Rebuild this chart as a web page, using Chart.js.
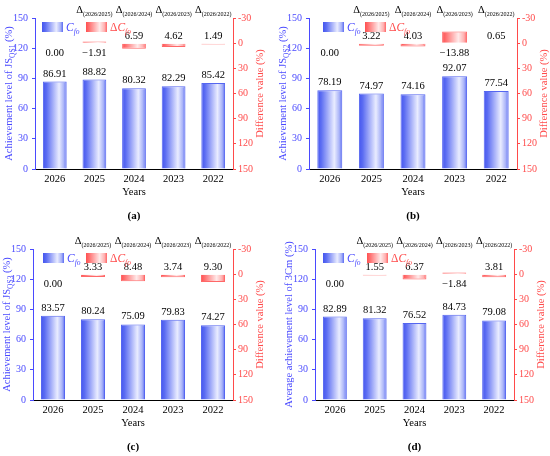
<!DOCTYPE html>
<html lang="en">
<head>
<meta charset="UTF-8">
<title>Achievement levels and difference values</title>
<script src="https://cdn.jsdelivr.net/npm/chart.js"></script>
<style>
  html, body { margin: 0; padding: 0; background: #fff; }
  body { width: 550px; height: 456px; position: relative; overflow: hidden; }
  .panel { position: absolute; width: 275px; height: 228px; }
</style>
</head>
<body>
<div class="panel" style="left:0;top:0"><canvas id="chartA"></canvas></div>
<div class="panel" style="left:275px;top:0"><canvas id="chartB"></canvas></div>
<div class="panel" style="left:0;top:228px"><canvas id="chartC"></canvas></div>
<div class="panel" style="left:275px;top:228px"><canvas id="chartD"></canvas></div>

<script>
// data
const years = ['2026', '2025', '2024', '2023', '2022'];
const deltaLabels = ['', '(2026/2025)', '(2026/2024)', '(2026/2023)', '(2026/2022)'];

const qs1Level = [86.91, 88.82, 80.32, 82.29, 85.42];
const qs1Diff  = [0.00, -1.91, 6.59, 4.62, 1.49];
const qs2Level = [78.19, 74.97, 74.16, 92.07, 77.54];
const qs2Diff  = [0.00, 3.22, 4.03, -13.88, 0.65];
const qs3Level = [83.57, 80.24, 75.09, 79.83, 74.27];
const qs3Diff  = [0.00, 3.33, 8.48, 3.74, 9.30];
const cmLevel  = [82.89, 81.32, 76.52, 84.73, 79.08];
const cmDiff   = [0.00, 1.55, 6.37, -1.84, 3.81];

const leftTicks  = { min: 0, max: 150, step: 30 };
const rightTicks = { min: -30, max: 150, step: 30 };

// look
const FONT = "'Liberation Serif', 'Times New Roman', serif";
const BLUE = '#4a4aff';
const RED  = '#ff4a4a';
const W = 275, H = 228;
const BAR_PCT = 0.6;
const blueStops = [[0, '#4556ef'], [0.15, '#5b6cf2'], [0.68, '#e9ecff'], [0.88, '#a9b3f8'], [1, '#5a6bf2']];
const redStops  = [[0, '#ff5050'], [0.15, '#ff7070'], [0.65, '#ffeaea'], [0.88, '#ffb0b0'], [1, '#ff6464']];

function makeGrad(ctx, x0, x1, stops) {
  const g = ctx.createLinearGradient(x0, 0, x1, 0);
  stops.forEach(s => g.addColorStop(s[0], s[1]));
  return g;
}

function barGrad(c, stops) {
  const chart = c.chart, xs = chart.scales.x;
  if (!chart.chartArea || !xs || c.dataIndex === undefined) return stops[0][1];
  const cx = xs.getPixelForValue(c.dataIndex);
  const half = xs.width / years.length * BAR_PCT / 2;
  return makeGrad(chart.ctx, cx - half, cx + half, stops);
}

// draw a run of text pieces, some of them subscripts
function drawRich(ctx, parts, x, y, align) {
  let total = 0;
  parts.forEach(p => {
    ctx.font = (p.bold ? 'bold ' : '') + (p.italic ? 'italic ' : '') + p.size + 'px ' + FONT;
    p.w = ctx.measureText(p.t).width;
    total += p.w;
  });
  let cx = align === 'center' ? x - total / 2 : (align === 'right' ? x - total : x);
  ctx.textAlign = 'left';
  ctx.textBaseline = 'alphabetic';
  parts.forEach(p => {
    ctx.font = (p.bold ? 'bold ' : '') + (p.italic ? 'italic ' : '') + p.size + 'px ' + FONT;
    ctx.fillStyle = p.color || '#000';
    ctx.fillText(p.t, cx, y + (p.dy || 0));
    cx += p.w;
  });
  return total;
}

function fmt(v) {
  return (v < 0 ? '\u2212' : '') + Math.abs(v).toFixed(2);
}

function makePanel(id, level, diff, yTitle, tag, area, legendX) {
  const decor = {
    id: 'decor' + id,
    afterDatasetsDraw(chart) {
      const ctx = chart.ctx;
      const ca = chart.chartArea;
      const y2 = chart.scales.y2;
      const zero = y2.getPixelForValue(0);
      ctx.save();

      // values on the achievement bars
      ctx.font = '10.5px ' + FONT;
      ctx.fillStyle = '#000';
      ctx.textAlign = 'center';
      ctx.textBaseline = 'alphabetic';
      chart.getDatasetMeta(0).data.forEach((bar, i) => {
        ctx.fillText(level[i].toFixed(2), bar.x, bar.y - 5);
      });
      // values of the differences, kept on the zero side of the bar
      chart.getDatasetMeta(1).data.forEach((bar, i) => {
        const v = diff[i];
        ctx.fillText(fmt(v), bar.x, v > 0 ? zero - 4 : zero + 13);
      });

      // delta labels above the plot
      const xs = chart.scales.x;
      deltaLabels.forEach((t, i) => {
        if (!t) return;
        drawRich(ctx, [
          { t: '\u0394', size: 10.5 },
          { t: t, size: 6, dy: 2.5 }
        ], xs.getPixelForValue(i), ca.top - 5, 'center');
      });

      // legend
      const ly = ca.top + 4;
      const bx = ca.left + legendX[0], rx = ca.left + legendX[1];
      ctx.fillStyle = makeGrad(ctx, bx, bx + 21, blueStops);
      ctx.fillRect(bx, ly, 21, 10);
      drawRich(ctx, [
        { t: 'C', size: 11.5, italic: true, color: BLUE },
        { t: 'fo', size: 7.5, italic: true, color: BLUE, dy: 3 }
      ], bx + 24, ly + 8.5, 'left');
      ctx.fillStyle = makeGrad(ctx, rx, rx + 21, redStops);
      ctx.fillRect(rx, ly, 21, 10);
      drawRich(ctx, [
        { t: '\u0394', size: 11.5, color: RED },
        { t: 'C', size: 11.5, italic: true, color: RED },
        { t: 'fo', size: 7.5, italic: true, color: RED, dy: 3 }
      ], rx + 24, ly + 8.5, 'left');

      // axis titles
      const midY = (ca.top + ca.bottom) / 2;
      ctx.save();
      ctx.translate(ca.left - 27, midY);
      ctx.rotate(-Math.PI / 2);
      drawRich(ctx, yTitle.map(p => Object.assign({ size: p.sub ? 7.5 : 10.5, color: BLUE, dy: p.sub ? 2.5 : 0 }, p)), 0, 4, 'center');
      ctx.restore();
      ctx.save();
      ctx.translate(ca.right + 26, midY);
      ctx.rotate(-Math.PI / 2);
      drawRich(ctx, [{ t: 'Difference value (%)', size: 10.5, color: RED }], 0, 4, 'center');
      ctx.restore();

      const midX = (ca.left + ca.right) / 2;
      drawRich(ctx, [{ t: 'Years', size: 10.5 }], midX, ca.bottom + 26, 'center');
      drawRich(ctx, [{ t: tag, size: 11, bold: true }], midX, ca.bottom + 50, 'center');
      ctx.restore();
    }
  };

  return new Chart(document.getElementById(id), {
    type: 'bar',
    data: {
      labels: years,
      datasets: [
        {
          label: 'Cfo',
          data: level,
          yAxisID: 'y',
          grouped: false,
          barPercentage: BAR_PCT,
          categoryPercentage: 1,
          borderWidth: 1,
          borderColor: '#5566f0',
          backgroundColor: c => barGrad(c, blueStops),
          order: 2
        },
        {
          label: '\u0394Cfo',
          data: diff,
          yAxisID: 'y2',
          grouped: false,
          barPercentage: BAR_PCT,
          categoryPercentage: 1,
          borderWidth: 1,
          borderColor: '#ff6868',
          backgroundColor: c => barGrad(c, redStops),
          order: 1
        }
      ]
    },
    options: {
      responsive: true,
      maintainAspectRatio: false,
      animation: false,
      layout: { padding: { top: area.top, left: 0, right: 0, bottom: 0 } },
      plugins: { legend: { display: false }, tooltip: { enabled: false } },
      scales: {
        x: {
          position: 'bottom',
          grid: { display: false, drawTicks: false },
          border: { color: '#000', width: 1 },
          ticks: { color: '#000', font: { family: FONT, size: 10.5 }, padding: 4 },
          afterFit: s => { s.height = H - area.bottom; }
        },
        y: {
          position: 'left',
          min: leftTicks.min, max: leftTicks.max,
          ticks: { stepSize: leftTicks.step, color: BLUE, font: { family: FONT, size: 10 }, padding: 4 },
          grid: { drawOnChartArea: false, color: BLUE, tickLength: 3 },
          border: { color: BLUE, width: 1 },
          afterFit: s => { s.width = area.left; }
        },
        y2: {
          position: 'right',
          reverse: true,
          min: rightTicks.min, max: rightTicks.max,
          ticks: { stepSize: rightTicks.step, color: RED, font: { family: FONT, size: 10 }, padding: 2 },
          grid: { drawOnChartArea: false, color: RED, tickLength: 3 },
          border: { color: RED, width: 1 },
          afterFit: s => { s.width = W - area.right; }
        }
      }
    },
    plugins: [decor]
  });
}

makePanel('chartA', qs1Level, qs1Diff,
  [{ t: 'Achievement level of JS' }, { t: 'QS1', sub: true }, { t: ' (%)' }], '(a)',
  { left: 35, right: 233, top: 18, bottom: 169 }, [7, 51]);
makePanel('chartB', qs2Level, qs2Diff,
  [{ t: 'Achievement level of JS' }, { t: 'QS2', sub: true }, { t: ' (%)' }], '(b)',
  { left: 34, right: 242, top: 18, bottom: 169 }, [14, 56]);
makePanel('chartC', qs3Level, qs3Diff,
  [{ t: 'Achievement level of JS' }, { t: 'QS3', sub: true }, { t: ' (%)' }], '(c)',
  { left: 33, right: 233, top: 21, bottom: 172 }, [10, 53]);
makePanel('chartD', cmLevel, cmDiff,
  [{ t: 'Average achievement level of 3Cm (%)' }], '(d)',
  { left: 40, right: 239, top: 21, bottom: 172 }, [8, 52]);
</script>
</body>
</html>
